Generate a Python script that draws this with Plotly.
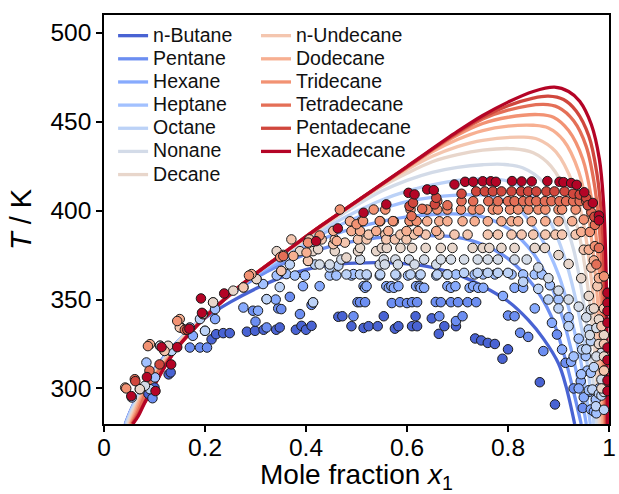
import plotly.graph_objects as go

# ---------------- data ----------------
names = ["n-Butane", "Pentane", "Hexane", "Heptane", "Octane", "Nonane", "Decane",
         "n-Undecane", "Dodecane", "Tridecane", "Tetradecane", "Pentadecane", "Hexadecane"]

x_ticks = [0, 0.2, 0.4, 0.6, 0.8, 1]
x_tick_labels = ["0", "0.2", "0.4", "0.6", "0.8", "1"]
y_ticks = [300, 350, 400, 450, 500]

# model curves (x1, T)
c0_x = [0.042, 0.055, 0.07, 0.09, 0.12, 0.15, 0.2, 0.25, 0.3, 0.35, 0.4, 0.45, 0.5, 0.55, 0.6, 0.65, 0.7, 0.75, 0.8, 0.84, 0.87, 0.9, 0.915, 0.932]
c0_T = [280, 289, 297.5, 307, 318, 327.5, 339.5, 348.5, 356, 362.3, 366.8, 369.5, 370.5, 370.7, 370, 368, 364, 357.5, 349, 338.5, 328, 314, 301, 280]
c1_x = [0.043, 0.055, 0.07, 0.09, 0.12, 0.15, 0.2, 0.25, 0.3, 0.35, 0.4, 0.45, 0.5, 0.55, 0.6, 0.66, 0.7, 0.75, 0.8, 0.85, 0.885, 0.91, 0.93, 0.945]
c1_T = [280, 288.5, 297, 306.5, 317.5, 327.5, 341, 352.5, 362, 369.5, 375.5, 380, 383, 385, 385.7, 385.8, 385, 381, 373, 358, 341, 320, 298, 280]
c2_x = [0.043, 0.055, 0.07, 0.09, 0.12, 0.15, 0.2, 0.25, 0.3, 0.35, 0.4, 0.45, 0.5, 0.55, 0.6, 0.65, 0.71, 0.75, 0.8, 0.85, 0.885, 0.91, 0.93, 0.945, 0.955]
c2_T = [280, 288.5, 297, 306.5, 317.5, 327.5, 341, 353, 363.5, 371.5, 379.5, 386, 390.5, 394, 396.5, 397.8, 398, 396.5, 390, 376, 358, 338, 316, 296, 280]
c3_x = [0.043, 0.055, 0.07, 0.09, 0.12, 0.15, 0.2, 0.25, 0.3, 0.35, 0.4, 0.45, 0.5, 0.55, 0.6, 0.65, 0.73, 0.77, 0.82, 0.865, 0.9, 0.925, 0.945, 0.963]
c3_T = [280, 288.5, 297, 306.5, 317.5, 327.5, 341, 353, 364, 373, 381.5, 389.5, 396, 401, 405, 407.5, 409, 408, 401, 385, 364, 340, 314, 280]
c4_x = [0.044, 0.055, 0.07, 0.09, 0.12, 0.15, 0.2, 0.25, 0.3, 0.35, 0.4, 0.45, 0.5, 0.55, 0.6, 0.65, 0.7, 0.76, 0.8, 0.845, 0.885, 0.915, 0.938, 0.955, 0.97]
c4_T = [280, 288, 296.5, 306, 317, 327.5, 341, 353.2, 364.5, 374, 383, 392, 399.5, 406, 411, 414.5, 417, 418, 416.5, 409, 393, 371, 345, 318, 280]
c5_x = [0.046, 0.057, 0.07, 0.09, 0.12, 0.15, 0.2, 0.25, 0.3, 0.35, 0.4, 0.45, 0.5, 0.55, 0.6, 0.65, 0.7, 0.75, 0.79, 0.83, 0.87, 0.905, 0.93, 0.947, 0.962, 0.976]
c5_T = [280, 288, 295, 305, 316.5, 327, 340.7, 353.2, 364.5, 375, 384, 394, 403, 411, 417, 421.5, 424.3, 425.8, 426, 424, 416, 399, 378, 353, 322, 280]
c6_x = [0.048, 0.058, 0.07, 0.09, 0.12, 0.15, 0.2, 0.25, 0.3, 0.36, 0.43, 0.5, 0.55, 0.6, 0.65, 0.7, 0.75, 0.81, 0.85, 0.885, 0.92, 0.942, 0.958, 0.97, 0.981]
c6_T = [280, 287.5, 294.5, 304.5, 316, 326.5, 340.5, 353.1, 364.5, 376.5, 390.5, 404.5, 413.5, 421, 427.5, 431.5, 434, 434.8, 432.5, 425, 407, 385, 357, 326, 280]
c7_x = [0.05, 0.06, 0.07, 0.09, 0.12, 0.15, 0.2, 0.25, 0.3, 0.36, 0.43, 0.5, 0.55, 0.6, 0.65, 0.7, 0.75, 0.83, 0.86, 0.895, 0.93, 0.95, 0.964, 0.975, 0.985]
c7_T = [280, 287, 293.5, 304, 315.5, 326, 340.3, 353, 364.5, 376.8, 391, 405, 414.5, 423, 430.5, 436, 439.5, 441.3, 440, 433, 414, 392, 364, 332, 280]
c8_x = [0.052, 0.062, 0.07, 0.09, 0.12, 0.145, 0.17, 0.2, 0.25, 0.3, 0.36, 0.43, 0.5, 0.6, 0.65, 0.7, 0.75, 0.8, 0.85, 0.88, 0.91, 0.94, 0.958, 0.971, 0.98, 0.988]
c8_T = [280, 287, 292.5, 303.5, 314.5, 323, 331.5, 340.2, 353, 364.5, 377, 391.3, 405, 424, 433, 440, 445, 447.5, 448, 446.5, 439.5, 422, 399, 370, 338, 280]
c9_x = [0.053, 0.064, 0.072, 0.09, 0.12, 0.145, 0.17, 0.2, 0.25, 0.3, 0.36, 0.43, 0.5, 0.6, 0.65, 0.7, 0.75, 0.8, 0.86, 0.89, 0.92, 0.948, 0.965, 0.977, 0.985, 0.991]
c9_T = [280, 286.5, 292, 303, 314, 322.8, 331.3, 340.1, 353, 364.5, 377, 391.4, 405, 424.5, 434, 442.5, 449, 452.5, 454, 452.5, 445, 429, 407, 378, 345, 280]
c10_x = [0.055, 0.066, 0.075, 0.09, 0.12, 0.145, 0.17, 0.2, 0.25, 0.3, 0.36, 0.43, 0.5, 0.6, 0.65, 0.7, 0.75, 0.8, 0.87, 0.9, 0.93, 0.955, 0.972, 0.982, 0.988, 0.993]
c10_T = [280, 286, 292, 302.5, 313.5, 322.6, 331.2, 340, 353, 364.5, 377, 391.5, 405, 424.5, 434.5, 443.5, 451.5, 456.5, 459.7, 458, 450.5, 436, 413, 386, 352, 280]
c11_x = [0.056, 0.067, 0.078, 0.1, 0.12, 0.144, 0.17, 0.2, 0.25, 0.3, 0.36, 0.43, 0.5, 0.6, 0.7, 0.75, 0.8, 0.85, 0.88, 0.91, 0.935, 0.96, 0.976, 0.986, 0.991, 0.995]
c11_T = [280, 285, 291, 302, 312.2, 322.5, 331, 340, 353, 364.5, 377, 391.5, 405, 424.5, 444, 452.5, 459, 463.3, 464.4, 462.5, 456, 442, 421, 394, 360, 280]
c12_x = [0.057, 0.068, 0.08, 0.1, 0.12, 0.144, 0.17, 0.2, 0.25, 0.3, 0.36, 0.43, 0.5, 0.6, 0.7, 0.75, 0.8, 0.85, 0.892, 0.92, 0.942, 0.965, 0.981, 0.989, 0.994, 0.997]
c12_T = [280, 284.5, 291.5, 302, 312, 322.5, 331, 340, 353, 364.5, 377, 391.5, 405.2, 424.8, 444.5, 453.5, 461, 467, 469.4, 467, 461.5, 448.4, 428.8, 405, 368, 280]

# experimental points (x1, T)
p0_x = [0.088, 0.1, 0.128, 0.132, 0.213, 0.222, 0.236, 0.249, 0.283, 0.299, 0.316, 0.341, 0.348, 0.38, 0.391, 0.4, 0.411, 0.464, 0.472, 0.49, 0.514, 0.524, 0.542, 0.554, 0.576, 0.583, 0.61, 0.617, 0.62, 0.649, 0.663, 0.674, 0.697, 0.735, 0.747, 0.76, 0.774, 0.789, 0.8, 0.863, 0.893]
p0_T = [297, 300.5, 307.9, 309, 327.6, 330.5, 331.1, 331.1, 331.9, 332.4, 333, 333, 334.3, 333, 335.2, 333, 335.2, 340.3, 340.6, 335, 334, 335, 335, 340.6, 333.6, 335, 335, 340.6, 335, 339.4, 330.7, 335, 335, 328.1, 327, 325.6, 325, 316.7, 322, 303.5, 291]
p1_x = [0.096, 0.17, 0.19, 0.204, 0.295, 0.3, 0.322, 0.345, 0.351, 0.368, 0.388, 0.411, 0.494, 0.502, 0.507, 0.517, 0.57, 0.586, 0.6, 0.61, 0.62, 0.657, 0.664, 0.667, 0.687, 0.697, 0.701, 0.71, 0.72, 0.737, 0.8, 0.813, 0.824, 0.84, 0.87, 0.897, 0.914, 0.93, 0.948]
p1_T = [294.5, 323, 323, 323, 343.7, 337.6, 334.3, 345, 344.6, 351.5, 341.8, 347, 340.6, 348.5, 348.5, 348.5, 348, 348.5, 348, 348.5, 348.5, 348.6, 340.6, 348.5, 348.5, 337.9, 348.5, 340.6, 348.5, 348.5, 341, 340.6, 331.3, 329, 321, 330.3, 314.4, 300, 289]
p2_x = [0.132, 0.176, 0.2, 0.22, 0.276, 0.305, 0.322, 0.34, 0.394, 0.414, 0.427, 0.514, 0.517, 0.52, 0.559, 0.564, 0.569, 0.574, 0.583, 0.618, 0.625, 0.627, 0.634, 0.68, 0.687, 0.696, 0.724, 0.731, 0.741, 0.751, 0.79, 0.813, 0.83, 0.853, 0.887, 0.907, 0.925, 0.944, 0.96, 0.964, 0.94, 0.95, 0.97]
p2_T = [321.1, 329.6, 332.4, 339, 345.5, 343.7, 350.2, 350, 357.5, 348.4, 357.5, 357.5, 356.6, 357.5, 357.5, 356.6, 357.5, 356.6, 357.5, 357.5, 357.5, 356.6, 356.6, 357.5, 356.6, 357.5, 356.6, 357.5, 356.6, 356.6, 352, 356.6, 356.6, 345, 336.9, 321.9, 315, 304.1, 298, 288.2, 300, 295, 287]
p3_x = [0.055, 0.084, 0.101, 0.111, 0.17, 0.22, 0.315, 0.342, 0.361, 0.378, 0.398, 0.447, 0.46, 0.49, 0.494, 0.52, 0.546, 0.579, 0.602, 0.625, 0.658, 0.68, 0.697, 0.734, 0.751, 0.774, 0.807, 0.83, 0.853, 0.867, 0.883, 0.9, 0.92, 0.94, 0.954, 0.957, 0.964, 0.974, 0.98, 0.93, 0.945, 0.96, 0.975]
p3_T = [294.9, 314.6, 306.2, 324, 334.3, 344.6, 358.7, 363.5, 364.3, 363.5, 363.5, 363.5, 363.5, 363.5, 364.3, 363.5, 363.5, 363.5, 363.5, 363.5, 363.5, 364.1, 364.1, 364.1, 364.1, 364.1, 364.1, 364.1, 364.1, 364.1, 358, 350, 340, 328, 318.2, 310, 308.8, 293.8, 300, 318, 308, 299, 286]
p4_x = [0.091, 0.12, 0.134, 0.19, 0.2, 0.322, 0.348, 0.368, 0.414, 0.418, 0.447, 0.464, 0.48, 0.507, 0.52, 0.547, 0.577, 0.607, 0.627, 0.66, 0.68, 0.713, 0.74, 0.76, 0.78, 0.8, 0.83, 0.86, 0.88, 0.9, 0.92, 0.947, 0.96, 0.964, 0.967, 0.974, 0.98, 0.99, 0.955, 0.97, 0.985, 0.99]
p4_T = [299.6, 321.1, 321.1, 339, 332.4, 350.2, 357, 369.7, 348.4, 369.7, 368, 369, 364.1, 364.1, 364.1, 364.1, 364.1, 364.1, 364.1, 364.1, 364.1, 365, 365, 365, 365, 365, 360, 356, 350, 345, 335, 321.9, 333.2, 326.6, 299.4, 290, 297, 305, 322, 312, 296, 288]
p5_x = [0.071, 0.081, 0.111, 0.152, 0.196, 0.216, 0.302, 0.351, 0.427, 0.447, 0.47, 0.507, 0.546, 0.554, 0.556, 0.577, 0.582, 0.604, 0.615, 0.634, 0.658, 0.667, 0.687, 0.713, 0.74, 0.76, 0.78, 0.813, 0.837, 0.86, 0.88, 0.9, 0.92, 0.94, 0.955, 0.964, 0.975, 0.985, 0.99, 0.962, 0.975, 0.985, 0.99]
p5_T = [299.6, 301.5, 324, 334.3, 341.8, 348.4, 361.5, 366.1, 369.7, 369.7, 372.5, 372.5, 369.7, 372.5, 369.7, 372.5, 369.7, 372.5, 369.7, 372.5, 369.7, 372.5, 372.5, 372.5, 372.5, 372.5, 372.5, 372.5, 372.5, 368, 362, 355, 350, 346, 340, 344.4, 334, 320, 310, 330, 318, 305, 298]
p6_x = [0.071, 0.127, 0.152, 0.196, 0.216, 0.256, 0.276, 0.302, 0.342, 0.388, 0.404, 0.414, 0.424, 0.457, 0.48, 0.503, 0.507, 0.539, 0.55, 0.56, 0.587, 0.61, 0.637, 0.667, 0.69, 0.73, 0.75, 0.763, 0.787, 0.813, 0.853, 0.873, 0.9, 0.92, 0.945, 0.96, 0.97, 0.98, 0.99, 0.98, 0.99, 0.985]
p6_T = [299.6, 324, 334.3, 341.8, 348.4, 355, 356.8, 361.5, 377.2, 377.2, 371.7, 377.2, 378.3, 377.2, 373.6, 377.2, 379, 377.2, 379, 379, 379, 379, 379, 379, 379, 379, 379, 379, 379, 379, 379, 379, 375, 370, 362, 352, 345, 338.8, 330, 325, 318, 300]
p7_x = [0.042, 0.12, 0.15, 0.276, 0.351, 0.371, 0.404, 0.407, 0.431, 0.454, 0.457, 0.477, 0.503, 0.52, 0.524, 0.557, 0.559, 0.576, 0.587, 0.599, 0.614, 0.637, 0.664, 0.694, 0.72, 0.76, 0.78, 0.807, 0.827, 0.85, 0.874, 0.894, 0.907, 0.934, 0.95, 0.965, 0.977, 0.99, 0.985, 0.99, 0.99]
p7_T = [300.5, 321.1, 334.3, 356.8, 366.1, 383.8, 371.7, 383.8, 383.8, 381.1, 383.8, 382, 383.8, 383.8, 386.5, 386.5, 383.8, 383.8, 386.5, 383.8, 386.5, 386.5, 386.5, 386.5, 386.5, 386.5, 386.5, 386.5, 386.5, 386.5, 386.5, 386.5, 386.5, 386.5, 378, 368, 357.5, 345, 335, 325, 310]
p8_x = [0.091, 0.15, 0.292, 0.355, 0.375, 0.401, 0.454, 0.461, 0.487, 0.49, 0.507, 0.51, 0.539, 0.547, 0.563, 0.574, 0.599, 0.607, 0.622, 0.64, 0.658, 0.664, 0.68, 0.71, 0.734, 0.76, 0.787, 0.807, 0.82, 0.847, 0.874, 0.9, 0.927, 0.945, 0.96, 0.97, 0.98]
p8_T = [324.9, 339, 364.3, 375.1, 374.5, 376.4, 388.6, 382.9, 394, 388.5, 388.5, 394, 388.5, 394, 388.5, 394, 388.5, 394, 388.5, 394, 388.5, 394, 394, 394, 394, 394, 394, 394, 394, 394, 394, 394, 394, 388, 378, 372, 362]
p9_x = [0.044, 0.087, 0.145, 0.287, 0.349, 0.404, 0.427, 0.467, 0.5, 0.513, 0.534, 0.546, 0.557, 0.572, 0.605, 0.607, 0.619, 0.64, 0.66, 0.68, 0.707, 0.73, 0.744, 0.77, 0.78, 0.804, 0.82, 0.84, 0.86, 0.874, 0.9, 0.907, 0.934, 0.95, 0.962, 0.972, 0.99]
p9_T = [300, 323.8, 337.9, 363.5, 373.8, 382, 386, 400.6, 392.3, 394.1, 400.6, 394.1, 400.6, 394.1, 394.1, 400.6, 394.1, 400.6, 400.6, 400.6, 400.6, 400.6, 400.6, 400.6, 400.6, 400.6, 400.6, 400.6, 400.6, 400.6, 400.6, 400.6, 400.6, 395, 388, 380, 363]
p10_x = [0.061, 0.09, 0.16, 0.355, 0.609, 0.63, 0.66, 0.68, 0.708, 0.731, 0.761, 0.78, 0.8, 0.813, 0.83, 0.843, 0.856, 0.873, 0.886, 0.902, 0.915, 0.929, 0.942, 0.955, 0.965, 0.972, 0.975, 0.98]
p10_T = [305.2, 310, 333, 374.4, 396.9, 401, 405.3, 403, 405.3, 405.3, 405.3, 405.3, 405.3, 405.3, 405.3, 405.3, 405.3, 405.3, 405.3, 405.3, 405.3, 405.3, 405.3, 405.3, 399, 392, 369.7, 379]
p11_x = [0.062, 0.11, 0.165, 0.605, 0.612, 0.655, 0.658, 0.708, 0.737, 0.754, 0.77, 0.787, 0.807, 0.826, 0.84, 0.856, 0.876, 0.892, 0.912, 0.929, 0.942, 0.955, 0.958, 0.971]
p11_T = [304.1, 313.5, 333, 402.5, 404.4, 403.5, 407.2, 409.5, 410.8, 410.8, 410.8, 410.8, 410.8, 410.8, 410.8, 410.8, 410.8, 410.8, 410.8, 409.5, 409, 407, 403, 396.5]
p12_x = [0.054, 0.085, 0.102, 0.114, 0.133, 0.145, 0.169, 0.192, 0.194, 0.238, 0.42, 0.463, 0.514, 0.559, 0.603, 0.615, 0.64, 0.653, 0.694, 0.715, 0.731, 0.75, 0.766, 0.776, 0.808, 0.827, 0.847, 0.878, 0.902, 0.91, 0.925, 0.936, 0.951, 0.968, 0.98, 0.98, 0.997, 0.997, 0.997, 0.997, 0.997, 0.997, 0.997, 0.997]
p12_T = [295.7, 306.4, 298.5, 323.2, 313.5, 323.2, 333.6, 350.6, 342.5, 353.4, 382.8, 390, 398.8, 403.5, 410, 409.1, 411.9, 411.5, 414.7, 416.2, 416.2, 416.5, 416.5, 416.2, 416.6, 416.4, 416.4, 416.6, 416.2, 416, 415.5, 414.5, 410.3, 404.3, 397.2, 394.5, 353.8, 348, 343.5, 337, 323, 316, 304.5, 298.5]

curves_x = [c0_x, c1_x, c2_x, c3_x, c4_x, c5_x, c6_x, c7_x, c8_x, c9_x, c10_x, c11_x, c12_x]
curves_T = [c0_T, c1_T, c2_T, c3_T, c4_T, c5_T, c6_T, c7_T, c8_T, c9_T, c10_T, c11_T, c12_T]
points_x = [p0_x, p1_x, p2_x, p3_x, p4_x, p5_x, p6_x, p7_x, p8_x, p9_x, p10_x, p11_x, p12_x]
points_T = [p0_T, p1_T, p2_T, p3_T, p4_T, p5_T, p6_T, p7_T, p8_T, p9_T, p10_T, p11_T, p12_T]

# ---------------- style ----------------
colors = ["#4963d3", "#6c8ef1", "#87aafd", "#a2c1ff", "#bcd2f7", "#d3dbe8", "#e8d6cb",
          "#f4c6af", "#f7af91", "#f29273", "#e46f57", "#d0473d", "#b40426"]
FONT = "Liberation Sans, Arial, sans-serif"

fig = go.Figure()
for i, name in enumerate(names):
    fig.add_trace(go.Scatter(
        x=curves_x[i], y=curves_T[i], mode="lines",
        name='<span style="font-size:19.5px">' + name + '</span>',
        line=dict(color=colors[i], width=3.3, shape="spline", smoothing=1.0),
        legend="legend" if i < 7 else "legend2", showlegend=True, hoverinfo="skip"))
for i, name in enumerate(names):
    fig.add_trace(go.Scatter(
        x=points_x[i], y=points_T[i], mode="markers", name=name, showlegend=False,
        marker=dict(color=colors[i], size=9.5, line=dict(color="#1a1a1a", width=1))))

axis_common = dict(showline=True, linecolor="black", linewidth=1.6, mirror=True,
                   ticks="outside", ticklen=6, tickwidth=1.5, tickcolor="black",
                   showgrid=False, zeroline=False, ticklabeloverflow="allow",
                   tickfont=dict(family=FONT, size=24.5, color="black"))

legend_common = dict(xanchor="left", yanchor="top", bgcolor="rgba(0,0,0,0)",
                     font=dict(family=FONT, size=15.5, color="#111"), itemwidth=30,
                     tracegroupgap=0, borderwidth=0)

fig.update_layout(
    width=619, height=494,
    margin=dict(l=104, r=10, t=15, b=70, autoexpand=False),
    paper_bgcolor="white", plot_bgcolor="white",
    font=dict(family=FONT, color="black"),
    xaxis=dict(range=[0, 1], tickvals=x_ticks, ticktext=x_tick_labels,
               title=dict(text="Mole fraction <i>x</i><sub>1</sub>", font=dict(family=FONT, size=28), standoff=10),
               **axis_common),
    yaxis=dict(range=[280, 510], tickvals=y_ticks,
               title=dict(text="<i>T</i> / K", font=dict(family=FONT, size=29), standoff=10),
               **axis_common),
    legend=dict(x=0.018, y=0.99, **legend_common),
    legend2=dict(x=0.301, y=0.99, **legend_common),
)

try:
    fig.update_xaxes(ticklabelstandoff=-5)
    fig.update_layout(xaxis_title_standoff=15)
except ValueError:
    pass

fig.write_html("out.html", post_script="document.body.style.margin='0px';",
               config={"displayModeBar": False})
